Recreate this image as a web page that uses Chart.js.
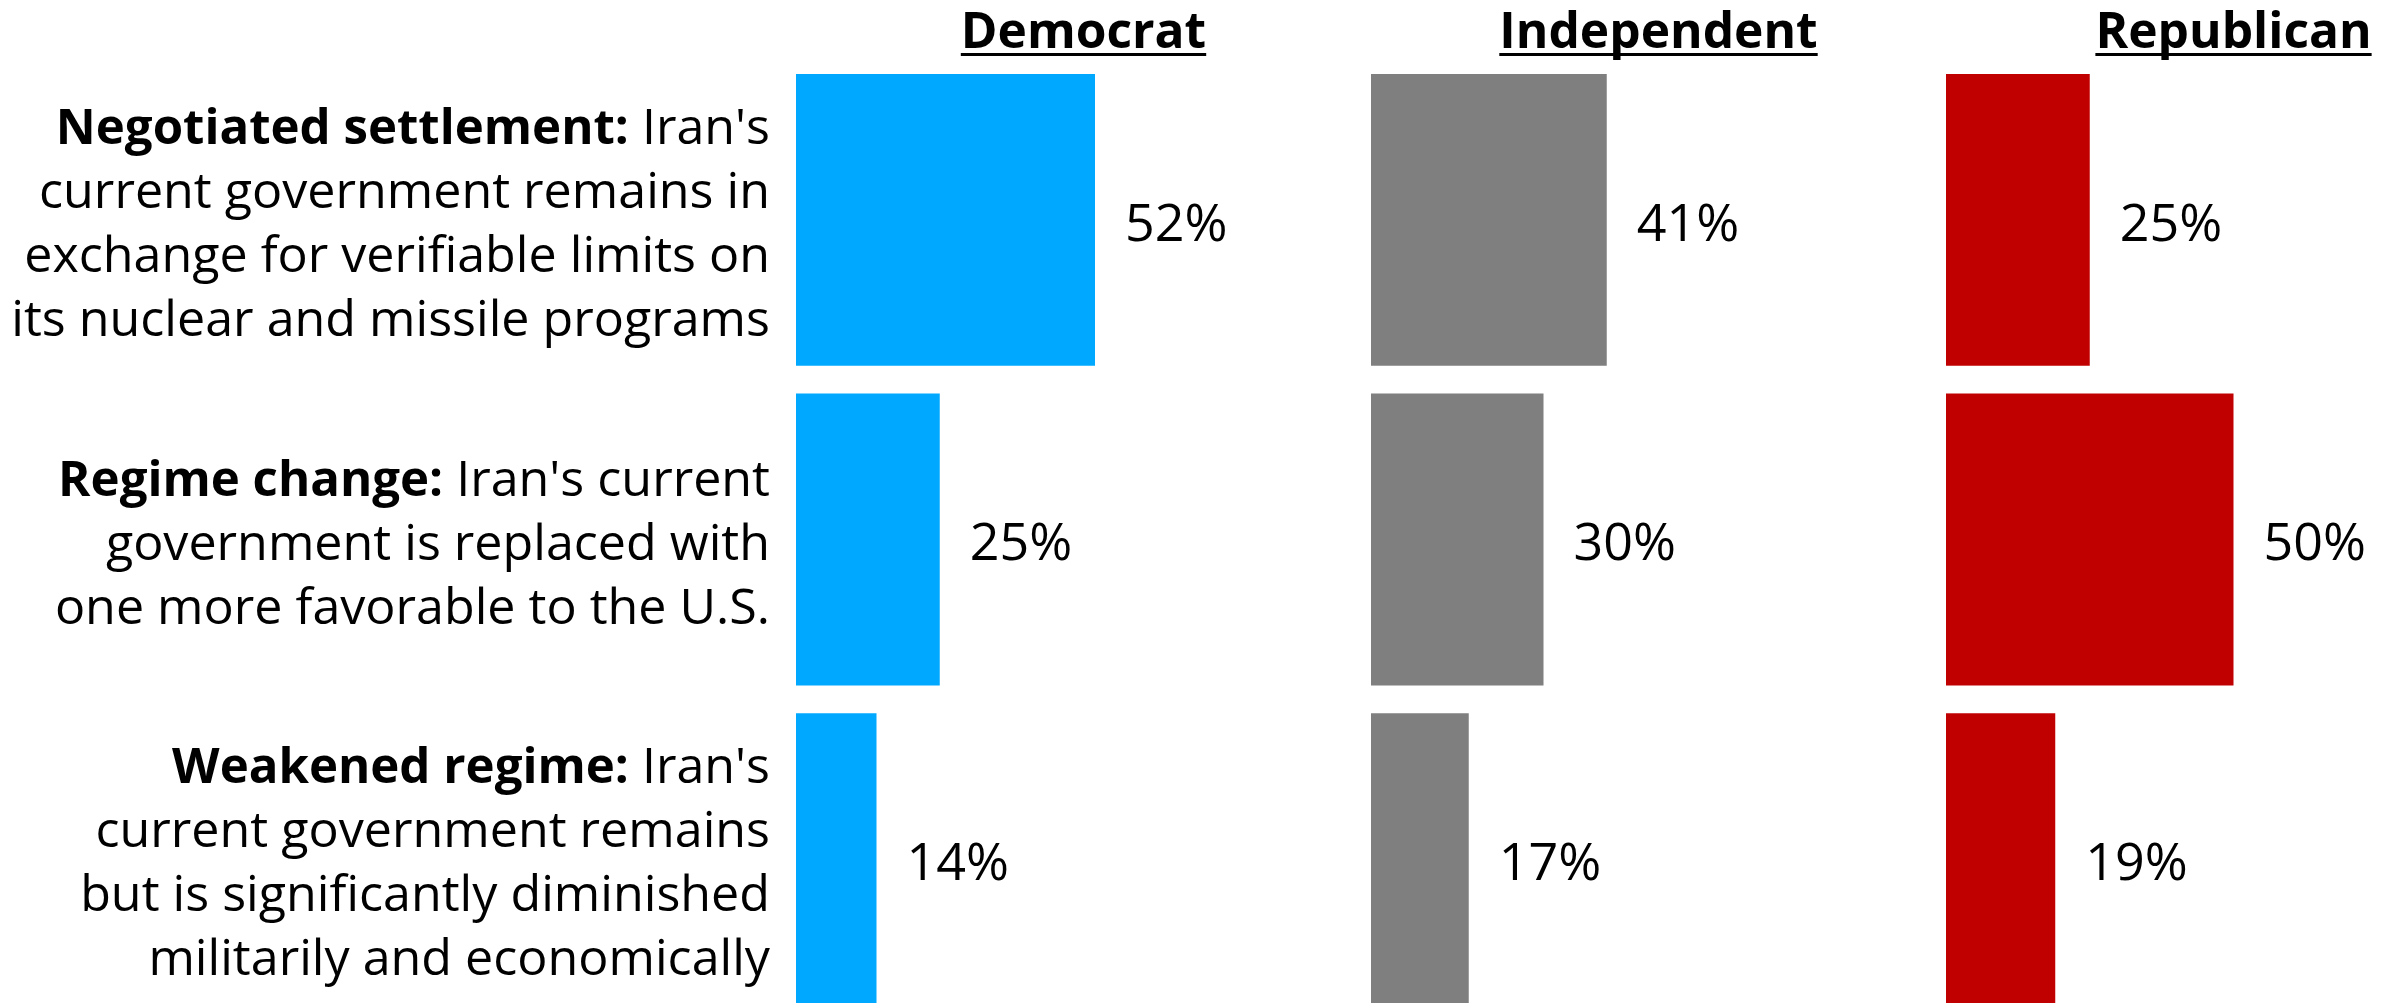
<!DOCTYPE html>
<html>
<head>
<meta charset="utf-8">
<title>Iran outcome preference by party</title>
<script src="https://cdn.jsdelivr.net/npm/chart.js@4.4.1/dist/chart.umd.min.js"></script>
<style>
  html, body { margin: 0; padding: 0; background: #fff; overflow: hidden; }
  #wrap { position: relative; width: 2399px; height: 1003px; overflow: hidden; }
  .panel { position: absolute; top: 0; }
</style>
</head>
<body>
<div id="wrap">
  <canvas id="demChart" class="panel" style="left:0" width="1371" height="1040"></canvas>
  <canvas id="indChart" class="panel" style="left:1371px" width="575" height="1040"></canvas>
  <canvas id="repChart" class="panel" style="left:1946px" width="575" height="1040"></canvas>
</div>
<script>
// data
const categories = ['Negotiated settlement', 'Regime change', 'Weakened regime'];
const parties = ['Democrat', 'Independent', 'Republican'];
const democrat = [52, 25, 14];
const independent = [41, 30, 17];
const republican = [25, 50, 19];
const partyColors = ['#00A8FF', '#7F7F7F', '#C00000'];

// left side text, first part of first line is bold
const questionText = [
  [['Negotiated settlement:', " Iran's"], 'current government remains in', 'exchange for verifiable limits on', 'its nuclear and missile programs'],
  [['Regime change:', " Iran's current"], 'government is replaced with', 'one more favorable to the U.S.'],
  [['Weakened regime:', " Iran's"], 'current government remains', 'but is significantly diminished', 'militarily and economically']
];

const FONT = "'Segoe UI', 'Open Sans', sans-serif";
const TEXT_SIZE = 50.2;
const BOLD_SIZE = 49.2;
const VALUE_SIZE = 52;
const HEAD_SIZE = 49.7;
const LINE_H = 64;

// header with underline above each panel
const headerPlugin = {
  id: 'header',
  afterDraw(chart, args, opts) {
    const { ctx, chartArea } = chart;
    ctx.save();
    ctx.font = `bold ${HEAD_SIZE}px ${FONT}`;
    ctx.fillStyle = '#000';
    ctx.textBaseline = 'alphabetic';
    ctx.textAlign = 'left';
    const w = ctx.measureText(opts.text).width;
    let cx = (chartArea.left + chartArea.right) / 2;
    // keep the last header inside the visible page
    if (opts.maxRight && cx + w / 2 > opts.maxRight) cx = opts.maxRight - w / 2;
    const x0 = cx - w / 2;
    ctx.fillText(opts.text, x0, 48);
    ctx.fillRect(x0, 53, w, 3);
    ctx.restore();
  }
};

// percentage next to each bar
const valueLabels = {
  id: 'valueLabels',
  afterDatasetsDraw(chart) {
    const { ctx } = chart;
    const meta = chart.getDatasetMeta(0);
    const vals = chart.data.datasets[0].data;
    ctx.save();
    ctx.font = `${VALUE_SIZE}px ${FONT}`;
    ctx.fillStyle = '#000';
    ctx.textBaseline = 'middle';
    ctx.textAlign = 'left';
    meta.data.forEach((bar, i) => {
      ctx.fillText(vals[i] + '%', bar.x + 30, bar.y + 6);
    });
    ctx.restore();
  }
};

// question descriptions to the left of the first panel
const questionLabels = {
  id: 'questionLabels',
  afterDraw(chart) {
    const { ctx, chartArea } = chart;
    const y = chart.scales.y;
    const right = chartArea.left - 26;
    ctx.save();
    ctx.fillStyle = '#000';
    ctx.textBaseline = 'middle';
    ctx.textAlign = 'right';
    questionText.forEach((lines, i) => {
      const cy = y.getPixelForValue(i) + 6;
      const top = cy - (lines.length - 1) * LINE_H / 2;
      lines.forEach((line, j) => {
        const ly = top + j * LINE_H;
        if (Array.isArray(line)) {
          ctx.font = `${TEXT_SIZE}px ${FONT}`;
          const w = ctx.measureText(line[1]).width;
          ctx.fillText(line[1], right, ly);
          ctx.font = `bold ${BOLD_SIZE}px ${FONT}`;
          ctx.fillText(line[0], right - w, ly);
        } else {
          ctx.font = `${TEXT_SIZE}px ${FONT}`;
          ctx.fillText(line, right, ly);
        }
      });
    });
    ctx.restore();
  }
};

const makeChart = (id, idx, values, leftPad, extra) => {
  const plugins = [headerPlugin, valueLabels].concat(extra || []);
  return new Chart(document.getElementById(id), {
    type: 'bar',
    data: {
      labels: categories,
      datasets: [{
        label: parties[idx],
        data: values,
        backgroundColor: partyColors[idx],
        borderWidth: 0,
        categoryPercentage: 1,
        barPercentage: 0.913
      }]
    },
    options: {
      indexAxis: 'y',
      responsive: false,
      animation: false,
      layout: { padding: { left: leftPad, right: 0, top: 60, bottom: 21 } },
      plugins: {
        legend: { display: false },
        tooltip: { enabled: false },
        header: { text: parties[idx], maxRight: idx === 2 ? 2399 - 1946 - 20 : null }
      },
      scales: {
        x: { display: false, min: 0, max: 100 },
        y: { display: false, offset: true, grid: { display: false } }
      }
    },
    plugins: plugins
  });
};

makeChart('demChart', 0, democrat, 796, [questionLabels]);
makeChart('indChart', 1, independent, 0);
makeChart('repChart', 2, republican, 0);
</script>
</body>
</html>
